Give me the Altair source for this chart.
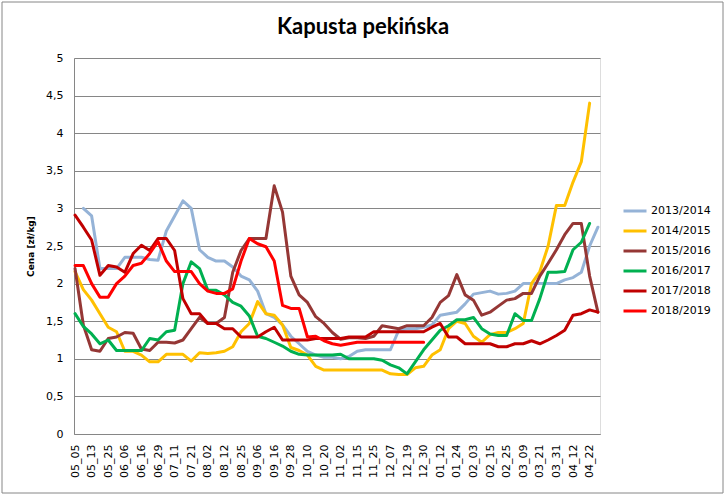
import altair as alt
import pandas as pd

# x-axis category labels (one label every 8 data points)
labels = ["05_05", "05_13", "05_25", "06_06", "06_16", "06_29", "07_11", "07_21",
          "08_02", "08_12", "08_25", "09_06", "09_16", "09_28", "10_10", "10_20",
          "11_02", "11_15", "11_25", "12_07", "12_19", "12_30", "01_12", "01_24",
          "02_03", "02_15", "02_25", "03_09", "03_21", "03_31", "04_12", "04_22"]

seasons = ["2013/2014", "2014/2015", "2015/2016", "2016/2017", "2017/2018", "2018/2019"]
colors = ["#95B3D7", "#FFC000", "#953735", "#00B050", "#C00000", "#FF0000"]

# prices sampled every 4 data points (half a label interval)
s2013 = [None, 3.0, 2.9, 2.2, 2.2, 2.2, 2.35, 2.35, 2.35, 2.32, 2.31, 2.7, 2.9, 3.1, 3.0, 2.45,
         2.35, 2.3, 2.3, 2.22, 2.1, 2.05, 1.9, 1.6, 1.55, 1.45, 1.3, 1.2, 1.1, 1.05, 1.02, 1.02,
         1.0, 1.03, 1.1, 1.12, 1.12, 1.12, 1.12, 1.38, 1.4, 1.4, 1.42, 1.45, 1.58, 1.6, 1.62, 1.73,
         1.86, 1.88, 1.9, 1.86, 1.87, 1.9, 2.0, 2.0, 2.0, 2.0, 2.0, 2.05, 2.08, 2.15, 2.5, 2.75]
s2014 = [2.16, 1.92, 1.78, 1.6, 1.42, 1.36, 1.1, 1.1, 1.05, 0.96, 0.96, 1.06, 1.06, 1.06, 0.97, 1.08,
         1.07, 1.08, 1.1, 1.16, 1.36, 1.47, 1.76, 1.6, 1.58, 1.45, 1.15, 1.11, 1.05, 0.9, 0.85, 0.85,
         0.85, 0.85, 0.85, 0.85, 0.85, 0.85, 0.8, 0.79, 0.79, 0.88, 0.9, 1.05, 1.12, 1.4, 1.5, 1.47,
         1.3, 1.22, 1.32, 1.35, 1.35, 1.4, 1.47, 2.0, 2.16, 2.5, 3.04, 3.04, 3.35, 3.62, 4.4, None]
s2015 = [2.2, 1.45, 1.12, 1.1, 1.27, 1.29, 1.35, 1.34, 1.13, 1.11, 1.22, 1.22, 1.21, 1.25, 1.4, 1.55,
         1.47, 1.47, 1.55, 2.15, 2.44, 2.6, 2.6, 2.6, 3.3, 2.95, 2.1, 1.85, 1.75, 1.56, 1.47, 1.35,
         1.26, 1.28, 1.28, 1.27, 1.3, 1.44, 1.42, 1.4, 1.44, 1.44, 1.44, 1.55, 1.75, 1.84, 2.12, 1.85,
         1.78, 1.58, 1.62, 1.7, 1.78, 1.8, 1.87, 1.87, 2.1, 2.27, 2.45, 2.65, 2.8, 2.8, 2.1, 1.62]
s2016 = [1.6, 1.43, 1.33, 1.2, 1.25, 1.11, 1.11, 1.11, 1.11, 1.27, 1.25, 1.36, 1.38, 2.0, 2.29, 2.2,
         1.91, 1.91, 1.85, 1.75, 1.7, 1.57, 1.3, 1.27, 1.22, 1.17, 1.1, 1.06, 1.05, 1.05, 1.05, 1.05,
         1.06, 1.0, 1.0, 1.0, 1.0, 0.98, 0.92, 0.88, 0.8, 0.96, 1.12, 1.25, 1.38, 1.44, 1.52, 1.52,
         1.55, 1.4, 1.33, 1.31, 1.31, 1.6, 1.51, 1.51, 1.8, 2.15, 2.15, 2.16, 2.45, 2.55, 2.8, None]
s2017 = [2.91, 2.75, 2.58, 2.11, 2.24, 2.22, 2.15, 2.4, 2.51, 2.44, 2.6, 2.6, 2.44, 1.8, 1.6, 1.6,
         1.47, 1.47, 1.4, 1.4, 1.29, 1.29, 1.29, 1.36, 1.42, 1.25, 1.25, 1.25, 1.25, 1.27, 1.27, 1.27,
         1.27, 1.29, 1.29, 1.29, 1.36, 1.36, 1.36, 1.36, 1.36, 1.36, 1.36, 1.42, 1.47, 1.29, 1.29, 1.2,
         1.2, 1.2, 1.2, 1.16, 1.16, 1.2, 1.2, 1.24, 1.2, 1.25, 1.31, 1.38, 1.58, 1.6, 1.65, 1.62]
s2018 = [2.24, 2.24, 2.0, 1.82, 1.82, 2.0, 2.1, 2.24, 2.27, 2.4, 2.56, 2.3, 2.16, 2.16, 2.16, 2.0,
         1.9, 1.87, 1.87, 1.93, 2.3, 2.6, 2.53, 2.49, 2.3, 1.71, 1.67, 1.67, 1.29, 1.3, 1.24, 1.2,
         1.18, 1.2, 1.22, 1.22, 1.22, 1.22, 1.22, 1.22, 1.22, 1.22, 1.22]

series = [s2013, s2014, s2015, s2016, s2017, s2018]
STEP = 4

rows = []
for i, (name, vals) in enumerate(zip(seasons, series)):
    for k, v in enumerate(vals):
        if v is not None:
            rows.append({"idx": k * STEP, "season": name, "price": v, "s": i})
df = pd.DataFrame(rows)

label_expr = "[" + ",".join("'%s'" % l for l in labels) + "][round(datum.value/8)]"
FONT = "DejaVu Sans"
GRAY = "#868686"

lines = alt.Chart(df).mark_line(strokeWidth=3, strokeJoin="round", strokeCap="round").encode(
    x=alt.X("idx:Q",
            scale=alt.Scale(domain=[-0.5, 253], nice=False, zero=False),
            axis=alt.Axis(values=list(range(0, 8 * len(labels), 8)), labelExpr=label_expr,
                          labelAngle=-90, title=None, grid=False, ticks=False, tickSize=0,
                          domainColor=GRAY, labelFont=FONT, labelFontSize=11,
                          labelColor="#000000", labelPadding=10)),
    y=alt.Y("price:Q",
            scale=alt.Scale(domain=[0, 5], nice=False),
            axis=alt.Axis(values=[i * 0.5 for i in range(11)],
                          labelExpr="replace(toString(datum.value), '.', ',')",
                          title="Cena [zł/kg]", titleFont=FONT, titleFontSize=9,
                          titleFontWeight="bold", titleColor="#000000",
                          titleX=-44, titleY=188, titleBaseline="middle",
                          grid=True, gridColor=GRAY, gridWidth=1, ticks=False, tickSize=0,
                          domainColor=GRAY, labelFont=FONT, labelFontSize=11,
                          labelColor="#000000", labelPadding=11)),
    color=alt.Color("season:N",
                    scale=alt.Scale(domain=seasons, range=colors),
                    legend=alt.Legend(title=None, orient="none", legendX=548, legendY=140,
                                      symbolType="stroke", symbolSize=529, symbolStrokeWidth=3,
                                      labelFont=FONT, labelFontSize=11, labelColor="#000000",
                                      rowPadding=1, labelOffset=3, padding=0)),
    order=alt.Order("idx:Q"),
)

frame = alt.Chart(pd.DataFrame({"a": [0]})).mark_rect(
    fill="white", fillOpacity=0, stroke=GRAY, strokeWidth=1
).encode(x=alt.value(-72), x2=alt.value(649), y=alt.value(-56), y2=alt.value(435))

chart = alt.layer(frame, lines).properties(
    width=526, height=376,
    padding={"left": 74, "top": 58, "right": 125, "bottom": 65},
    autosize=alt.AutoSizeParams(type="none"),
    title=alt.TitleParams("Kapusta pekińska", font="Lato", fontSize=22, fontWeight="bold",
                          color="#000000", anchor="middle", frame="group", dx=26,
                          offset=-54, baseline="alphabetic"),
).configure_view(stroke=None).configure(background="white")

chart.save("out.html", embed_options={"renderer": "svg", "actions": False})
